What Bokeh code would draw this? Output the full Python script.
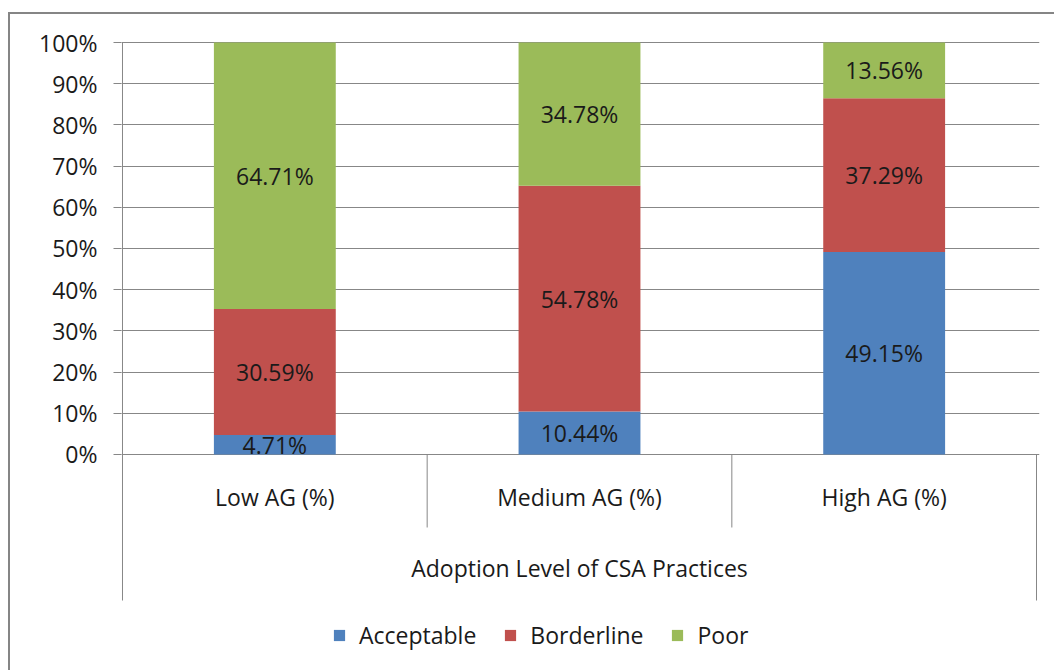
from bokeh.plotting import figure
from bokeh.models import Range1d, FixedTicker, NumeralTickFormatter, ColumnDataSource, Legend, LegendItem
from bokeh.core.properties import value
from bokeh.embed import file_html
from bokeh.resources import INLINE

# ---- data ----
categories = ["Low AG (%)", "Medium AG (%)", "High AG (%)"]
group_label = "Adoption Level of CSA Practices"
series_names = ["Acceptable", "Borderline", "Poor"]
acceptable = [4.71, 10.44, 49.15]
borderline = [30.59, 54.78, 37.29]
poor = [64.71, 34.78, 13.56]
colors = ["#4F81BD", "#C0504D", "#9BBB59"]
y_ticks = [0, 0.1, 0.2, 0.3, 0.4, 0.5, 0.6, 0.7, 0.8, 0.9, 1.0]

FONT = "Open Sans"
FS = "23px"
GRID = "#878787"
TXT = "#1a1a1a"

n = len(categories)
xs = [i + 0.5 for i in range(n)]
series = [acceptable, borderline, poor]
data = {"x": xs}
for name, vals in zip(series_names, series):
    data[name] = [v / 100 for v in vals]
src = ColumnDataSource(data)

y_frame_bottom = -0.5243
y_axis_bottom = -0.3544
p = figure(frame_width=918, frame_height=629, output_backend="svg", toolbar_location=None,
           x_range=Range1d(-0.00328, n * 1.00328), y_range=Range1d(y_frame_bottom, 1.00243),
           min_border_left=111, min_border_right=15, min_border_top=27, min_border_bottom=0)
p.styles = {"border-left": "2px solid #858585", "border-top": "2px solid #858585",
            "margin-left": "8px", "margin-top": "12px"}
p.outline_line_color = None
p.background_fill_color = "white"
p.border_fill_color = "white"

renderers = p.vbar_stack(series_names, x="x", width=0.4, source=src, color=colors, line_color=None)

# value labels
lx, ly, lt = [], [], []
for j in range(n):
    base = 0.0
    for vals in series:
        v = vals[j] / 100
        lx.append(xs[j]); ly.append(base + v / 2); lt.append(f"{vals[j]:.2f}%")
        base += v
p.text(x=lx, y=ly, text=lt, text_align="center", text_baseline="middle",
       text_font=value(FONT), text_font_size=FS, text_color=TXT)

# category labels
p.text(x=xs, y=[-0.102] * n, text=categories, text_align="center", text_baseline="middle",
       text_font=value(FONT), text_font_size=FS, text_color=TXT)
p.text(x=[n / 2], y=[-0.2767], text=[group_label], text_align="center", text_baseline="middle",
       text_font=value(FONT), text_font_size=FS, text_color=TXT)

# value axis line and category dividers
div_x = list(range(1, n))
p.segment(x0=[0], y0=[1.0], x1=[0], y1=[y_axis_bottom], line_color=GRID, line_width=1)
p.segment(x0=div_x, y0=[0] * len(div_x), x1=div_x, y1=[-0.1772] * len(div_x), line_color=GRID, line_width=1)
p.segment(x0=[n], y0=[0], x1=[n], y1=[y_axis_bottom], line_color=GRID, line_width=1)

# axes
p.xaxis.visible = False
p.xgrid.visible = False
p.ygrid.ticker = FixedTicker(ticks=y_ticks)
p.ygrid.grid_line_color = GRID
p.ygrid.grid_line_width = 1
ya = p.yaxis[0]
ya.ticker = FixedTicker(ticks=y_ticks)
ya.formatter = NumeralTickFormatter(format="0%")
ya.minor_tick_line_color = None
ya.major_tick_out = 8
ya.major_tick_in = 0
ya.major_tick_line_color = GRID
ya.axis_line_color = None
ya.major_label_standoff = 16
ya.major_label_text_font = FONT
ya.major_label_text_font_size = FS
ya.major_label_text_color = TXT

legend = Legend(items=[LegendItem(label=nm, renderers=[r]) for nm, r in zip(series_names, renderers)],
                orientation="horizontal", location=(211, 19))
legend.glyph_width = 14
legend.glyph_height = 14
legend.label_standoff = 13
legend.spacing = 27
legend.padding = 0
legend.margin = 0
legend.border_line_color = None
legend.background_fill_alpha = 0
legend.label_text_font = FONT
legend.label_text_font_size = FS
legend.label_text_color = TXT
p.add_layout(legend)

open("out.html", "w").write(file_html(p, INLINE))
